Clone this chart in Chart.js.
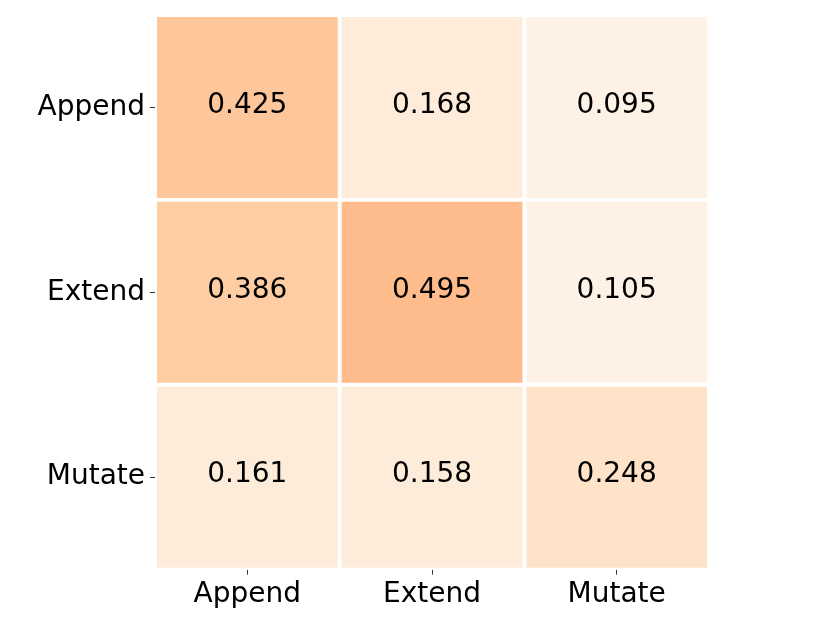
<!DOCTYPE html>
<html>
<head>
<meta charset="utf-8">
<script src="https://cdn.jsdelivr.net/npm/chart.js@4.4.0/dist/chart.umd.min.js"></script>
<style>
  html, body { margin: 0; padding: 0; background: #ffffff; }
  #wrap { width: 830px; height: 623px; position: relative; }
</style>
</head>
<body>
<div id="wrap"><canvas id="heatmap"></canvas></div>
<script>
// Heatmap data
const rowLabels = ['Append', 'Extend', 'Mutate'];
const colLabels = ['Append', 'Extend', 'Mutate'];
const appendRow = [0.425, 0.168, 0.095];
const extendRow = [0.386, 0.495, 0.105];
const mutateRow = [0.161, 0.158, 0.248];
const rows = [appendRow, extendRow, mutateRow];

const FONT = 'DejaVu Sans';

// matplotlib "Oranges" colormap stops
const ORANGES = [
    [255, 245, 235], [254, 230, 206], [253, 208, 162],
    [253, 174, 107], [253, 141, 60], [241, 105, 19],
    [217, 72, 1], [166, 54, 3], [127, 39, 4]
];

function orange(v, alpha) {
    const t = Math.max(0, Math.min(1, v)) * (ORANGES.length - 1);
    const i = Math.min(Math.floor(t), ORANGES.length - 2);
    const f = t - i;
    const c = ORANGES[i].map((a, k) => Math.round(a + (ORANGES[i + 1][k] - a) * f));
    return `rgba(${c[0]}, ${c[1]}, ${c[2]}, ${alpha})`;
}

// one dataset per row, each cell is a floating bar spanning that row
const datasets = rows.map((vals, r) => ({
    label: rowLabels[r],
    data: colLabels.map((c, ci) => ({ x: c, y: [r, r + 1], v: vals[ci] })),
    backgroundColor: vals.map(v => orange(v, 0.6)),
    borderColor: '#ffffff',
    borderWidth: 2.3,
    borderSkipped: false,
    grouped: false,
    barPercentage: 1,
    categoryPercentage: 1
}));

// write each value in the middle of its cell
const cellText = {
    id: 'cellText',
    afterDatasetsDraw(chart) {
        const ctx = chart.ctx;
        ctx.save();
        ctx.font = `28px "${FONT}"`;
        ctx.fillStyle = '#000000';
        ctx.textAlign = 'center';
        ctx.textBaseline = 'middle';
        chart.data.datasets.forEach((ds, di) => {
            chart.getDatasetMeta(di).data.forEach((bar, i) => {
                const cy = (bar.y + bar.base) / 2;
                ctx.fillText(ds.data[i].v.toFixed(3), bar.x, cy - 2);
            });
        });
        ctx.restore();
    }
};

new Chart(document.getElementById('heatmap'), {
    type: 'bar',
    data: { labels: colLabels, datasets: datasets },
    options: {
        responsive: true,
        maintainAspectRatio: false,
        animation: false,
        layout: { padding: { top: 15, right: 121, left: 0, bottom: 0 } },
        plugins: {
            legend: { display: false },
            tooltip: { enabled: false }
        },
        scales: {
            x: {
                type: 'category',
                offset: true,
                grid: { offset: false, drawOnChartArea: false, tickLength: 5, color: '#333333', lineWidth: 1 },
                border: { display: false },
                ticks: { color: '#000000', font: { family: FONT, size: 28 }, padding: 3, maxRotation: 0 },
                afterFit(scale) {
                    scale.height = 53.4;
                    scale.paddingLeft = 0;
                    scale.paddingRight = 0;
                }
            },
            y: {
                type: 'linear',
                min: 0,
                max: 3,
                reverse: true,
                grid: { drawOnChartArea: false, tickLength: 5, color: '#333333', lineWidth: 1 },
                border: { display: false },
                afterBuildTicks(axis) {
                    axis.ticks = rowLabels.map((l, i) => ({ value: i + 0.5 }));
                },
                ticks: {
                    color: '#000000',
                    font: { family: FONT, size: 28 },
                    padding: 5,
                    callback: (value) => rowLabels[Math.floor(value)]
                },
                afterFit(scale) {
                    scale.width = 155;
                    scale.paddingTop = 0;
                    scale.paddingBottom = 0;
                }
            }
        }
    },
    plugins: [cellText]
});
</script>
</body>
</html>
